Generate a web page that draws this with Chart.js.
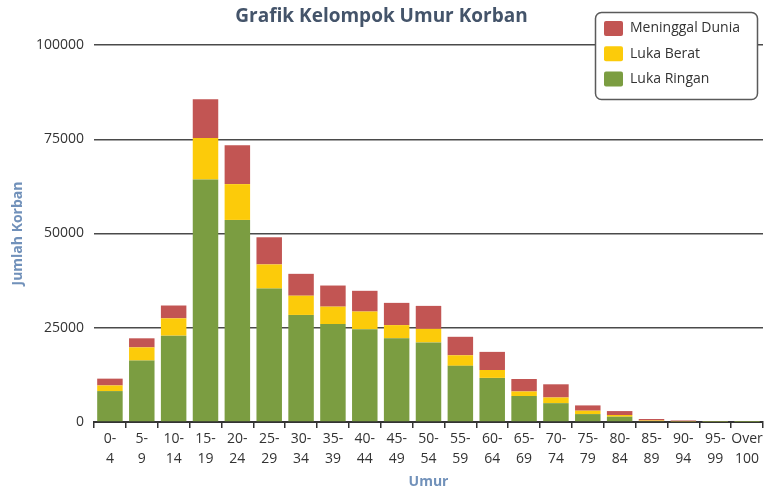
<!DOCTYPE html>
<html>
<head>
<meta charset="utf-8">
<title>Grafik Kelompok Umur Korban</title>
<script src="https://cdn.jsdelivr.net/npm/chart.js@4.4.1/dist/chart.umd.min.js"></script>
<style>
  html, body { margin: 0; padding: 0; background: #fff; }
  #wrap { width: 765px; height: 492px; }
</style>
</head>
<body>
<div id="wrap"><canvas id="graph" width="765" height="492"></canvas></div>
<script>
// kelompok umur (label 2 baris)
const umur = [
  ['0-', '4'], ['5-', '9'], ['10-', '14'], ['15-', '19'], ['20-', '24'],
  ['25-', '29'], ['30-', '34'], ['35-', '39'], ['40-', '44'], ['45-', '49'],
  ['50-', '54'], ['55-', '59'], ['60-', '64'], ['65-', '69'], ['70-', '74'],
  ['75-', '79'], ['80-', '84'], ['85-', '89'], ['90-', '94'], ['95-', '99'],
  ['Over', '100']
]

const lukaRingan = [8200, 16300, 22900, 64300, 53600, 35400, 28400, 26000, 24600, 22200,
  21100, 14900, 11700, 6900, 5000, 2100, 1400, 250, 120, 30, 20]
const lukaBerat = [1500, 3500, 4600, 11000, 9500, 6400, 5100, 4600, 4700, 3500,
  3600, 2800, 2100, 1200, 1500, 900, 450, 150, 60, 10, 10]
const meninggal = [1800, 2400, 3400, 10300, 10300, 7200, 5800, 5600, 5500, 5900,
  6100, 4900, 4800, 3300, 3500, 1400, 1050, 400, 220, 60, 30]

const yTicks = [0, 25000, 50000, 75000, 100000]

const fontName = "'Open Sans', 'DejaVu Sans', sans-serif"
const axisTitleColor = '#7191ba'

// legenda kotak di pojok kanan atas
const boxLegend = {
  id: 'boxLegend',
  afterDraw(chart) {
    const ctx = chart.ctx
    ctx.save()
    ctx.beginPath()
    ctx.roundRect(595.5, 12.5, 162, 87, 6)
    ctx.fillStyle = '#fff'
    ctx.fill()
    ctx.lineWidth = 1.5
    ctx.strokeStyle = '#5a5a5a'
    ctx.stroke()

    const sets = chart.data.datasets.slice().reverse()
    sets.forEach((ds, i) => {
      const cy = 28.5 + i * 25.3
      ctx.beginPath()
      ctx.roundRect(604, cy - 7.5, 19, 15, 2)
      ctx.fillStyle = ds.backgroundColor
      ctx.fill()
      ctx.fillStyle = '#333'
      ctx.font = '14px ' + fontName
      ctx.textBaseline = 'middle'
      ctx.textAlign = 'left'
      ctx.fillText(ds.label, 630, cy)
    })
    ctx.restore()
  }
}

const graph = document.getElementById('graph').getContext('2d')
let myChart = new Chart(graph, {
  type: 'bar',
  data: {
    labels: umur,
    datasets: [
      { label: 'Luka Ringan', data: lukaRingan, backgroundColor: '#7b9d41' },
      { label: 'Luka Berat', data: lukaBerat, backgroundColor: '#fccb0a' },
      { label: 'Meninggal Dunia', data: meninggal, backgroundColor: '#c25553' }
    ]
  },
  options: {
    responsive: false,
    animation: false,
    devicePixelRatio: 1,
    layout: { padding: { left: 0, right: 2, top: 0, bottom: 0 } },
    datasets: {
      bar: { barPercentage: 0.8, categoryPercentage: 1.0 }
    },
    plugins: {
      legend: { display: false },
      tooltip: { enabled: false },
      title: {
        display: true,
        text: 'Grafik Kelompok Umur Korban',
        color: '#44546a',
        font: { family: fontName, size: 19, weight: 'bold' },
        padding: { top: 5, bottom: 17.2 }
      }
    },
    scales: {
      x: {
        stacked: true,
        grid: { display: true, drawOnChartArea: false, drawTicks: true, tickLength: 6, color: '#333', lineWidth: 1.5 },
        border: { display: true, color: '#333', width: 2 },
        ticks: {
          color: '#333',
          font: { family: fontName, size: 14, lineHeight: 1.45 },
          padding: 1,
          maxRotation: 0,
          autoSkip: false
        },
        title: {
          display: true,
          text: 'Umur',
          color: axisTitleColor,
          font: { family: fontName, size: 14, weight: 'bold' },
          padding: { top: 4, bottom: 2 }
        },
        afterFit(scale) { scale.height = 70 }
      },
      y: {
        stacked: true,
        min: 0,
        max: 100000,
        afterBuildTicks(scale) { scale.ticks = yTicks.map(v => ({ value: v })) },
        grid: { color: '#4a4a4a', lineWidth: 1.5, drawTicks: false },
        border: { display: false },
        ticks: {
          color: '#333',
          font: { family: fontName, size: 14 },
          padding: 10,
          callback: (v) => String(v)
        },
        title: {
          display: true,
          text: 'Jumlah Korban',
          color: axisTitleColor,
          font: { family: fontName, size: 14, weight: 'bold' },
          padding: { top: 10, bottom: 4 }
        },
        afterFit(scale) { scale.width = 94 }
      }
    }
  },
  plugins: [boxLegend]
})
</script>
</body>
</html>
